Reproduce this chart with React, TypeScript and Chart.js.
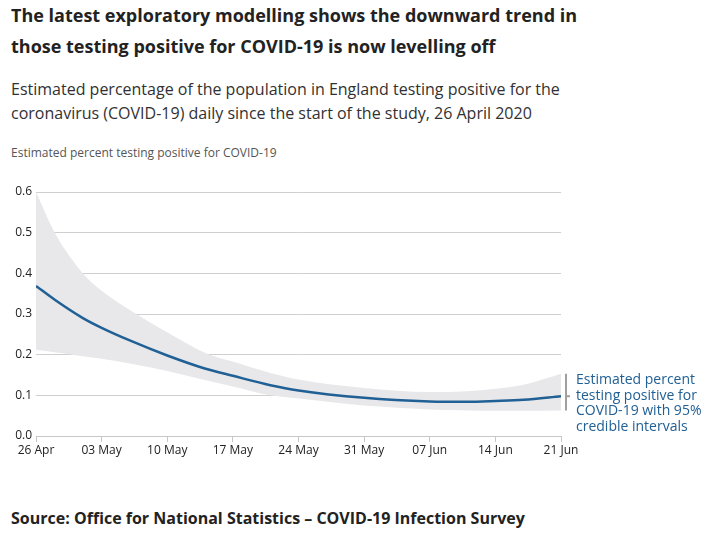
import React, { useEffect, useRef } from "react";
import { Chart, registerables } from "chart.js";

Chart.register(...registerables);

const days = [0, 2, 5, 7, 10, 14, 18, 21, 25, 28, 35, 42, 46, 49, 52, 56];
const central = [0.369, 0.335, 0.29, 0.266, 0.235, 0.198, 0.166, 0.148, 0.125, 0.112, 0.094, 0.085, 0.084, 0.086, 0.089, 0.098];
const upper = [0.6, 0.5, 0.4, 0.357, 0.31, 0.255, 0.205, 0.183, 0.155, 0.139, 0.118, 0.108, 0.11, 0.116, 0.126, 0.153];
const lower = [0.212, 0.206, 0.196, 0.19, 0.178, 0.16, 0.138, 0.122, 0.1, 0.092, 0.075, 0.065, 0.063, 0.062, 0.062, 0.063];
const tickLabels = ["26 Apr", "03 May", "10 May", "17 May", "24 May", "31 May", "07 Jun", "14 Jun", "21 Jun"];

const FONT = "'Open Sans', 'Noto Sans', sans-serif";

const bracketPlugin = {
  id: "bracket",
  afterDatasetsDraw(chart: any) {
    const { ctx, chartArea, scales } = chart;
    const y = scales.y;
    const n = days.length - 1;
    const x0 = chartArea.right + 5;
    const yTop = y.getPixelForValue(upper[n]);
    const yBot = y.getPixelForValue(lower[n]);
    const yMid = y.getPixelForValue(central[n]);
    ctx.save();
    ctx.strokeStyle = "#a0a0a0";
    ctx.lineWidth = 2;
    ctx.beginPath();
    ctx.moveTo(x0, yTop);
    ctx.lineTo(x0, yBot);
    ctx.moveTo(x0, yMid);
    ctx.lineTo(x0 + 4, yMid);
    ctx.stroke();
    ctx.restore();
  },
};

export default function App() {
  const ref = useRef<HTMLCanvasElement>(null);
  useEffect(() => {
    const toPts = (arr: number[]) => arr.map((v, i) => ({ x: days[i], y: v }));
    const chart = new Chart(ref.current!, {
      type: "line",
      data: {
        datasets: [
          {
            label: "central",
            data: toPts(central),
            borderColor: "#206095",
            borderWidth: 2.5,
            pointRadius: 0,
            cubicInterpolationMode: "monotone",
            fill: false,
          },
          {
            label: "upper",
            data: toPts(upper),
            borderWidth: 0,
            borderColor: "rgba(0,0,0,0)",
            backgroundColor: "#e8e8ea",
            pointRadius: 0,
            cubicInterpolationMode: "monotone",
            fill: "+1",
          },
          {
            label: "lower",
            data: toPts(lower),
            borderWidth: 0,
            borderColor: "rgba(0,0,0,0)",
            pointRadius: 0,
            cubicInterpolationMode: "monotone",
            fill: false,
          },
        ],
      },
      options: {
        animation: false,
        responsive: false,
        maintainAspectRatio: false,
        layout: { padding: { top: 12, right: 150, left: 0, bottom: 0 } },
        plugins: { legend: { display: false }, tooltip: { enabled: false } },
        scales: {
          x: {
            type: "linear",
            min: 0,
            max: 56,
            afterBuildTicks: (s: any) => {
              s.ticks = tickLabels.map((_, i) => ({ value: i * 7 }));
            },
            afterFit: (s: any) => {
              s.height = 34;
            },
            grid: { drawOnChartArea: false, drawTicks: true, tickLength: 6, color: "#c8c8c8" },
            border: { display: true, color: "#c8c8c8" },
            ticks: {
              autoSkip: false,
              maxRotation: 0,
              padding: 1,
              color: "#222222",
              font: { family: FONT, size: 12 },
              callback: (v: any) => tickLabels[Math.round(Number(v) / 7)],
            },
          },
          y: {
            min: 0,
            max: 0.6,
            afterFit: (s: any) => {
              s.width = 36;
            },
            grid: { drawTicks: false, color: "#cfcfcf" },
            border: { display: false },
            ticks: {
              stepSize: 0.1,
              padding: 4,
              color: "#222222",
              font: { family: FONT, size: 12 },
              callback: (v: any) => Number(v).toFixed(1),
            },
          },
        },
      },
      plugins: [bracketPlugin],
    } as any);
    return () => chart.destroy();
  }, []);

  const text: React.CSSProperties = { position: "absolute", left: 11, margin: 0, fontFamily: FONT, color: "#323132" };

  return (
    <div style={{ position: "absolute", left: 0, top: 0, width: 711, height: 537, background: "#fff", overflow: "hidden" }}>
      <div style={{ ...text, top: 0, fontSize: 18, fontWeight: 700, lineHeight: "31px", color: "#222222", width: 600 }}>
        The latest exploratory modelling shows the downward trend in
        <br />
        those testing positive for COVID-19 is now levelling off
      </div>
      <div style={{ ...text, top: 77, fontSize: 16, lineHeight: "24px", width: 600 }}>
        Estimated percentage of the population in England testing positive for the
        <br />
        coronavirus (COVID-19) daily since the start of the study, 26 April 2020
      </div>
      <div style={{ ...text, top: 144, fontSize: 12, lineHeight: "18px", color: "#555555" }}>
        Estimated percent testing positive for COVID-19
      </div>
      <canvas ref={ref} width={711} height={290} style={{ position: "absolute", left: 0, top: 180 }} />
      <div style={{ ...text, left: 576, top: 371, fontSize: 14, lineHeight: "15.5px", color: "#206095", width: 135 }}>
        Estimated percent
        <br />
        testing positive for
        <br />
        COVID-19 with 95%
        <br />
        credible intervals
      </div>
      <div style={{ ...text, top: 506, fontSize: 16, fontWeight: 700, lineHeight: "24px", color: "#222222" }}>
        Source: Office for National Statistics – COVID-19 Infection Survey
      </div>
    </div>
  );
}
